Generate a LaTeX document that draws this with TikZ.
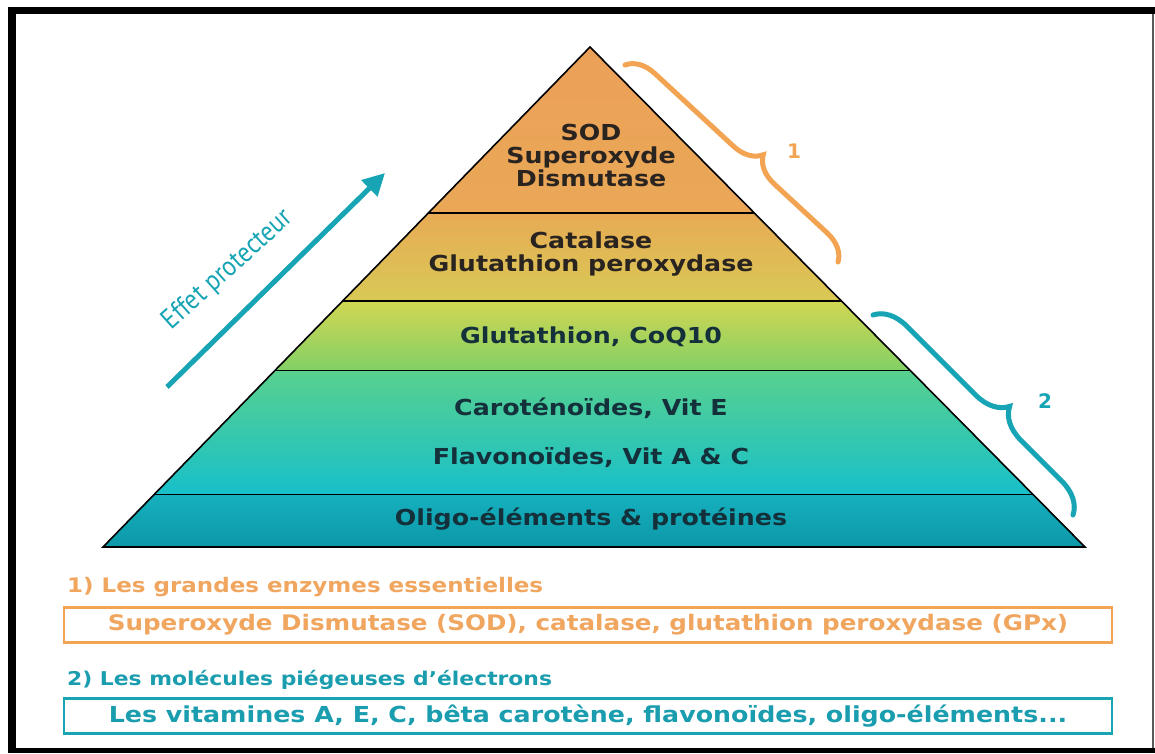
\documentclass[tikz,border=0pt]{standalone}
\usepackage{fontspec}
\setmainfont{DejaVu Sans}
\newfontfamily\wfont{DejaVu Sans}[FakeStretch=1.15]
\newfontfamily\condfont{PT Sans}[FakeStretch=0.88]
\usetikzlibrary{decorations.pathreplacing,arrows.meta,calc}
\definecolor{sodT}{HTML}{EBA058}
\definecolor{sodB}{HTML}{EAA857}
\definecolor{catT}{HTML}{E8AB55}
\definecolor{catB}{HTML}{D8C955}
\definecolor{gluT}{HTML}{D2D652}
\definecolor{gluB}{HTML}{82D066}
\definecolor{carT}{HTML}{58D08E}
\definecolor{carM}{HTML}{2DD3C2}
\definecolor{carB}{HTML}{17C0CA}
\definecolor{oliT}{HTML}{16B0BE}
\definecolor{oliB}{HTML}{0C98A8}
\definecolor{ptxt}{HTML}{2A2420}
\definecolor{ptxtb}{HTML}{14303A}
\definecolor{orng}{HTML}{F2A452}
\definecolor{orngtxt}{HTML}{F0A65E}
\definecolor{teal}{HTML}{17A4B4}
\definecolor{tealtxt}{HTML}{1A9DAE}
\tikzset{
  ptext/.style={text=ptxt, font=\wfont\bfseries\fontsize{22}{23}\selectfont, align=center, inner sep=0pt},
  ptextb/.style={ptext, text=ptxtb},
  edge/.style={line width=1.6pt, black},
  bracebox/.style={decorate, line width=5pt, line cap=round},
  legendhead/.style={font=\wfont\bfseries\fontsize{20}{22}\selectfont, anchor=west, inner sep=0pt},
  legendbox/.style={line width=2.6pt, minimum width=1048pt, minimum height=35pt, inner sep=0pt}
}
\begin{document}
\begin{tikzpicture}[x=1pt,y=-1pt]
\useasboundingbox (0,0) rectangle (1155,753);
\fill[white] (0,0) rectangle (1155,753);
% frame
\fill[black] (8,7) rectangle (1155,14);
\fill[black] (8,7) rectangle (16,753);
\fill[black] (8,748) rectangle (1155,753);
\draw[gray!70!black, line width=2pt] (1153,14) -- (1153,748);
% pyramid
\coordinate (A) at (590,47);
\coordinate (L) at (103,547);
\coordinate (R) at (1085,547);
\coordinate (l1) at ($(A)!0.332!(L)$);
\coordinate (r1) at ($(A)!0.332!(R)$);
\coordinate (l2) at ($(A)!0.508!(L)$);
\coordinate (r2) at ($(A)!0.508!(R)$);
\coordinate (l3) at ($(A)!0.647!(L)$);
\coordinate (r3) at ($(A)!0.647!(R)$);
\coordinate (l4) at ($(A)!0.895!(L)$);
\coordinate (r4) at ($(A)!0.895!(R)$);
\fill[top color=sodT, bottom color=sodB] (A) -- (r1) -- (l1) -- cycle;
\fill[top color=catT, bottom color=catB] (l1) -- (r1) -- (r2) -- (l2) -- cycle;
\fill[top color=gluT, bottom color=gluB] (l2) -- (r2) -- (r3) -- (l3) -- cycle;
\fill[top color=carT, middle color=carM, bottom color=carB] (l3) -- (r3) -- (r4) -- (l4) -- cycle;
\fill[top color=oliT, bottom color=oliB] (l4) -- (r4) -- (R) -- (L) -- cycle;
\draw[edge] (l1) -- (r1);
\draw[edge] (l2) -- (r2);
\draw[edge] (l3) -- (r3);
\draw[edge] (l4) -- (r4);
\draw[edge, line join=miter] (A) -- (R) -- (L) -- cycle;
% texts
\node[ptext] (sod) at (591,155) {SOD\\Superoxyde\\Dismutase};
\node[ptext] (cat) at (591,254) {Catalase\\Glutathion peroxydase};
\node[ptextb] (glu) at (591,337) {Glutathion, CoQ10};
\node[ptextb] (car) at (591,408) {Caroténoïdes, Vit E};
\node[ptextb] (fla) at (591,458) {Flavonoïdes, Vit A \& C};
\node[ptextb] (oli) at (591,519) {Oligo-éléments \& protéines};
% braces
\coordinate (b1s) at (625,65);
\coordinate (b1e) at (838,262);
\draw[bracebox, orng, decoration={brace, amplitude=28pt, aspect=0.56}] (b1s) -- (b1e);
\node[text=orng, font=\bfseries\fontsize{20}{22}\selectfont] (one) at (794,151) {1};
\coordinate (b2s) at (873,315);
\coordinate (b2e) at (1073,515);
\draw[bracebox, teal, decoration={brace, amplitude=32pt, aspect=0.57}] (b2s) -- (b2e);
\node[text=teal, font=\bfseries\fontsize{20}{22}\selectfont] (two) at (1045,401) {2};
% arrow
\coordinate (at) at (167,387);
\coordinate (ah) at (385,173);
\draw[teal, line width=5pt, -{Triangle[length=22pt,width=22pt]}] (at) -- (ah);
\node[text=teal, font=\condfont\fontsize{28}{30}\selectfont, rotate=42] (eff) at (228,270) {Effet protecteur};
% legend
\node[legendhead, text=orngtxt] (h1) at (67,587) {1) Les grandes enzymes essentielles};
\node[legendbox, draw=orng, text=orngtxt, font=\wfont\bfseries\fontsize{21.4}{23}\selectfont] (bx1) at (588,625) {Superoxyde Dismutase (SOD), catalase, glutathion peroxydase (GPx)};
\node[legendhead, text=tealtxt, font=\wfont\bfseries\fontsize{19}{21}\selectfont] (h2) at (67,680) {2) Les molécules piégeuses d’électrons};
\node[legendbox, draw=teal, text=tealtxt, font=\wfont\bfseries\fontsize{22}{24}\selectfont] (bx2) at (588,716) {Les vitamines A, E, C, bêta carotène, flavonoïdes, oligo-éléments...};
\end{tikzpicture}
\end{document}
